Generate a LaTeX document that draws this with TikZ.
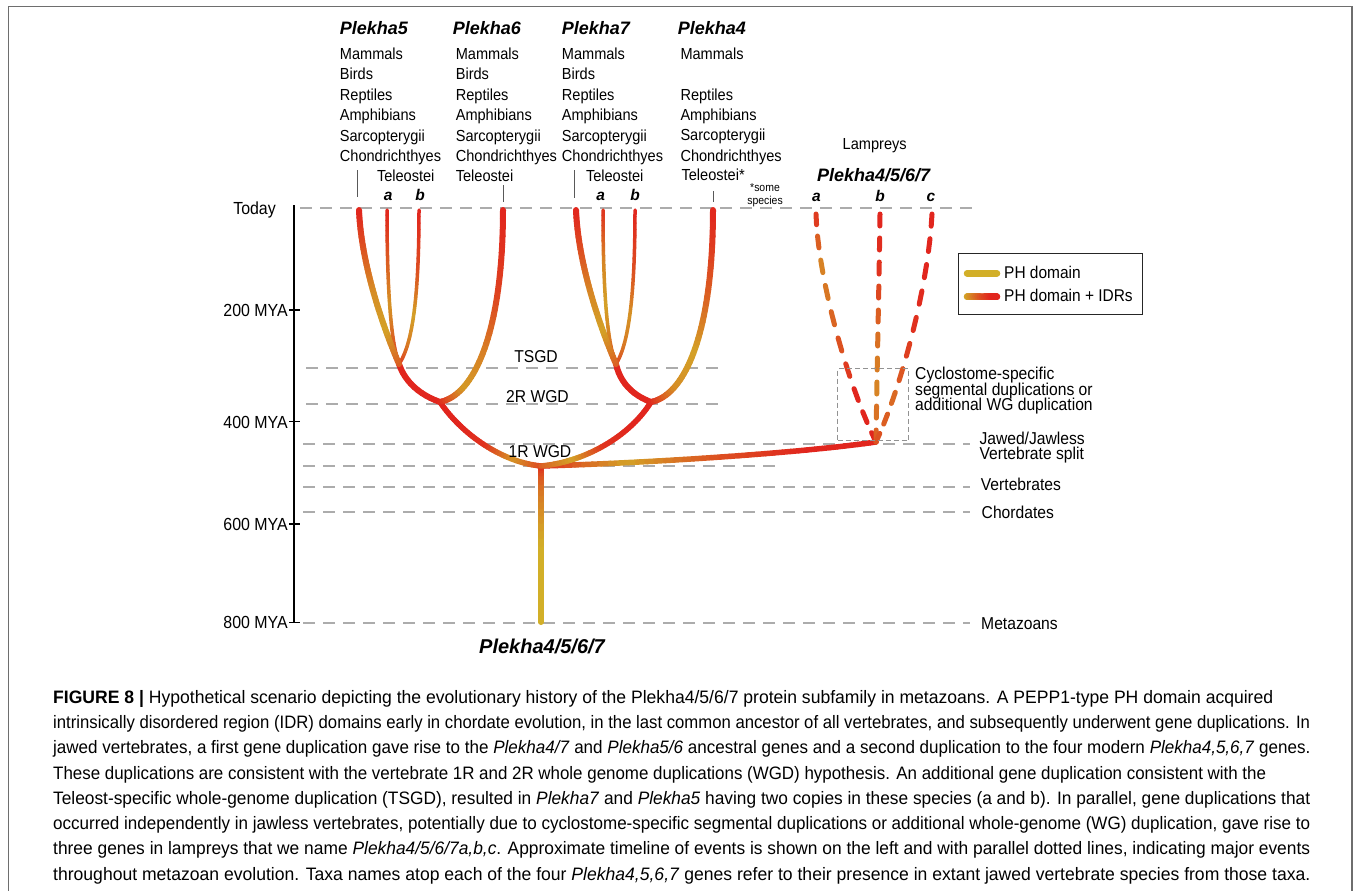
\documentclass[tikz,border=0pt]{standalone}
\usepackage{fontspec}
\usepackage{graphicx}
\setmainfont{Liberation Sans}
\newfontfamily\condfont[FakeStretch=0.91]{Liberation Sans}
\definecolor{mygold}{RGB}{210,175,40}
\definecolor{myred}{RGB}{225,38,30}
\definecolor{dashgray}{RGB}{172,172,172}
\definecolor{framegray}{RGB}{110,110,110}
% gradient branch: #1 width, #2 start, #3 ctrl1, #4 ctrl2, #5 end, #6 red% stops at t=0,.25,.5,.75,1, #7 segments
\newcommand\gbranch[7]{%
 \foreach \gi in {1,...,#7}{%
   \pgfmathsetmacro\gta{(\gi-1)/#7}%
   \pgfmathsetmacro\gtb{\gi/#7}%
   \pgfmathsetmacro\gtm{(\gi-0.5)/#7}%
   \pgfmathtruncatemacro\gk{min(3,floor(4*\gtm))}%
   \pgfmathsetmacro\gf{4*\gtm-\gk}%
   \pgfmathsetmacro\gra{{#6}[\gk]}%
   \pgfmathsetmacro\grb{{#6}[\gk+1]}%
   \pgfmathsetmacro\grp{\gra+(\grb-\gra)*\gf}%
   \path (#2) .. controls (#3) and (#4) .. (#5) coordinate[pos=\gta] (ga) coordinate[pos=\gtb] (gb);
   \draw[line width=#1, line cap=round, draw=myred!\grp!mygold] (ga) -- (gb);
 }}
% dashed gradient branch: draws odd segments only
\newcommand\gdbranch[7]{%
 \foreach \gi in {1,...,#7}{%
  \ifodd\gi\relax
   \pgfmathsetmacro\gta{(\gi-1)/#7}%
   \pgfmathsetmacro\gtb{\gi/#7}%
   \pgfmathsetmacro\gtm{(\gi-0.5)/#7}%
   \pgfmathtruncatemacro\gk{min(3,floor(4*\gtm))}%
   \pgfmathsetmacro\gf{4*\gtm-\gk}%
   \pgfmathsetmacro\gra{{#6}[\gk]}%
   \pgfmathsetmacro\grb{{#6}[\gk+1]}%
   \pgfmathsetmacro\grp{\gra+(\grb-\gra)*\gf}%
   \path (#2) .. controls (#3) and (#4) .. (#5) coordinate[pos=\gta] (ga) coordinate[pos=\gtb] (gb);
   \draw[line width=#1, line cap=round, draw=myred!\grp!mygold] (ga) -- (gb);
  \fi
 }}
\newcommand\capline[4]{\node[anchor=base west, inner sep=0, font=\fontsize{18}{20}\selectfont] (#1) at (53,#2) {\resizebox{#3pt}{\height}{#4}};}
\begin{document}
\begin{tikzpicture}[x=1pt,y=-1pt,
  lab/.style={inner sep=0, font=\condfont\fontsize{16}{18}\selectfont},
  evl/.style={inner sep=0, font=\condfont\fontsize{17.2}{18}\selectfont},
  axl/.style={inner sep=0, font=\condfont\fontsize{17.5}{19}\selectfont},
  hdr/.style={inner sep=0, font=\fontsize{18}{20}\selectfont\bfseries\itshape},
  abl/.style={inner sep=0, font=\fontsize{15.5}{17}\selectfont\bfseries\itshape},
  hline/.style={dashgray, line width=1.4, dash pattern=on 12pt off 8pt},
  axisline/.style={black, line width=1.3},
  leader/.style={black!65, line width=0.8}]
\useasboundingbox (0,0) rectangle (1354,891);
% frame
\draw[framegray, line width=1.8] (8.5,891) -- (8.5,6.5) -- (1352,6.5) -- (1352,891);

% time axis
\coordinate (axtop) at (294,205);
\coordinate (axbot) at (294,623);
\draw[axisline] (axtop) -- (axbot);
\foreach \ty in {310,421.7,524,622.7}{\draw[axisline] (289,\ty) -- (300,\ty);}
\node[axl, anchor=base east] (today) at (276,214) {Today};
\node[axl, anchor=base east] (m200) at (288,316.9) {200 MYA};
\node[axl, anchor=base east] (m400) at (288,428.5) {400 MYA};
\node[axl, anchor=base east] (m600) at (288,530.5) {600 MYA};
\node[axl, anchor=base east] (m800) at (288,628.8) {800 MYA};

% horizontal dashed event lines
\draw[hline] (300,208) -- (972,208);
\draw[hline] (306,368) -- (718,368);
\draw[hline] (306,404) -- (718,404);
\draw[hline] (303,444) -- (970,444);
\draw[hline] (303,466) -- (775,466);
\draw[hline] (303,487) -- (970,487);
\draw[hline] (303,512) -- (970,512);
\draw[hline] (303,623) -- (970,623);

% tree coordinates
\coordinate (base) at (541,622);
\coordinate (root) at (541,466);
\coordinate (n2L) at (440,402);
\coordinate (n2R) at (651,402);
\coordinate (nTL) at (399,364);
\coordinate (nTR) at (616,364);
\coordinate (lam) at (876,442);
\coordinate (t5) at (359,210);
\coordinate (t5a) at (387,210);
\coordinate (t5b) at (419,210);
\coordinate (t6) at (503,210);
\coordinate (t7) at (576,210);
\coordinate (t7a) at (603,210);
\coordinate (t7b) at (635,210);
\coordinate (t4) at (713,210);
\coordinate (la) at (816,214);
\coordinate (lb) at (880,214);
\coordinate (lc) at (932,214);

% branches
\gbranch{6}{base}{base}{root}{root}{0,0,0,40,100}{30}
\gbranch{5.5}{root}{650,463}{800,453}{lam}{100,10,70,100,100}{40}
\gbranch{5.5}{root}{500,462}{460,432}{n2L}{80,20,90,100,100}{40}
\gbranch{5.5}{root}{585,462}{630,436}{n2R}{60,10,90,100,100}{40}
\gbranch{6}{n2L}{420,395}{405,382}{nTL}{100,100,100,100,100}{12}
\gbranch{6}{n2R}{632,395}{620,382}{nTR}{100,100,100,100,100}{12}
\gbranch{3.5}{nTL}{390,340}{387,280}{t5a}{100,60,20,60,100}{40}
\gbranch{3.5}{nTL}{412,345}{419,300}{t5b}{90,40,10,70,100}{40}
\gbranch{6}{nTL}{380,320}{361,260}{t5}{60,10,25,65,100}{40}
\gbranch{6}{n2L}{475,395}{503,330}{t6}{100,15,35,80,100}{40}
\gbranch{3.5}{nTR}{606,340}{603,280}{t7a}{100,40,10,30,90}{40}
\gbranch{3.5}{nTR}{628,345}{635,300}{t7b}{80,40,20,70,100}{40}
\gbranch{6}{nTR}{597,320}{578,260}{t7}{60,10,30,70,100}{40}
\gbranch{6}{n2R}{686,395}{713,330}{t4}{100,25,10,60,100}{40}
% lamprey dashed branches
\gdbranch{5}{lam}{848,385}{818,280}{la}{100,100,60,30,90}{19}
\gdbranch{5}{lam}{877,366}{879,290}{lb}{60,30,50,90,100}{19}
\gdbranch{5}{lam}{900,390}{928,290}{lc}{70,50,90,100,100}{19}
\node[draw=dashgray!85!black, line width=1.2, dash pattern=on 5pt off 3pt, inner sep=0,
      minimum width=71pt, minimum height=72pt, anchor=north west] (cbox) at (837,368) {};

% event labels
\node[evl, anchor=base] (tsgd) at (536,362.7) {TSGD};
\node[evl, anchor=base] (wgd2) at (537.5,402.3) {2R WGD};
\node[evl, anchor=base] (wgd1) at (540,457.3) {1R WGD};
\node[evl, anchor=base west] (jj1) at (979.3,444) {Jawed/Jawless};
\node[evl, anchor=base west] (jj2) at (979.3,459.5) {Vertebrate split};
\node[evl, anchor=base west] (vert) at (980.7,490) {Vertebrates};
\node[evl, anchor=base west] (chord) at (981.5,518.3) {Chordates};
\node[evl, anchor=base west] (meta) at (981,629.3) {Metazoans};
\node[evl, anchor=base west] (cyc1) at (915,379.3) {Cyclostome-specific};
\node[evl, anchor=base west] (cyc2) at (915,395) {segmental duplications or};
\node[evl, anchor=base west] (cyc3) at (915,410.5) {additional WG duplication};
\node[hdr, anchor=base, font=\fontsize{20}{22}\selectfont\bfseries\itshape] (rootname) at (542,653.3) {Plekha4/5/6/7};

% headers
\node[hdr, anchor=base west] (h5) at (339.7,35) {Plekha5};
\node[hdr, anchor=base west] (h6) at (452.6,35) {Plekha6};
\node[hdr, anchor=base west] (h7) at (561.7,35) {Plekha7};
\node[hdr, anchor=base west] (h4) at (677.6,35) {Plekha4};
% taxa
\foreach \nm/\ty [count=\k] in {Mammals/59.5,Birds/79.5,Reptiles/100,Amphibians/120.5,Sarcopterygii/141,Chondrichthyes/161.5}{
  \node[lab, anchor=base west] (p5t\k) at (339.7,\ty) {\nm};
  \node[lab, anchor=base west] (p6t\k) at (455.6,\ty) {\nm};
  \node[lab, anchor=base west] (p7t\k) at (561.7,\ty) {\nm};
}
\foreach \nm/\ty [count=\k] in {Mammals/59.5,Reptiles/100,Amphibians/120,Sarcopterygii/140.5,Chondrichthyes/161.5}{
  \node[lab, anchor=base west] (p4t\k) at (680.3,\ty) {\nm};
}
\node[lab, anchor=base west] (p5tel) at (376.8,181.7) {Teleostei};
\node[lab, anchor=base west] (p6tel) at (455.6,181.7) {Teleostei};
\node[lab, anchor=base west] (p7tel) at (585.8,181.7) {Teleostei};
\node[lab, anchor=base west] (p4tel) at (681.4,180.5) {Teleostei*};
\node[inner sep=0, anchor=base, font=\condfont\fontsize{11.5}{12}\selectfont] (some1) at (765,191.7) {*some};
\node[inner sep=0, anchor=base, font=\condfont\fontsize{11.5}{12}\selectfont] (some2) at (765,204) {species};
\node[abl, anchor=base] (a5) at (388.3,200) {a};
\node[abl, anchor=base] (b5) at (420,200) {b};
\node[abl, anchor=base] (a7) at (600.7,200) {a};
\node[abl, anchor=base] (b7) at (635,200) {b};
% leaders
\coordinate (l5a) at (357.7,170); \coordinate (l5b) at (357.7,197);
\coordinate (l6a) at (503.5,185); \coordinate (l6b) at (503.5,202);
\coordinate (l7a) at (574.3,170); \coordinate (l7b) at (574.3,198);
\coordinate (l4a) at (713.6,191); \coordinate (l4b) at (713.6,202);
\draw[leader] (l5a) -- (l5b);
\draw[leader] (l6a) -- (l6b);
\draw[leader] (l7a) -- (l7b);
\draw[leader] (l4a) -- (l4b);

% lampreys
\node[lab, anchor=base] (lamp) at (874.7,149.3) {Lampreys};
\node[hdr, anchor=base] (lamph) at (873.7,181.7) {Plekha4/5/6/7};
\node[abl, anchor=base] (lla) at (816.5,201) {a};
\node[abl, anchor=base] (llb) at (880,201) {b};
\node[abl, anchor=base] (llc) at (931,201) {c};

% legend
\node[draw=black!85, line width=1, inner sep=0, minimum width=184pt, minimum height=61pt, anchor=north west] (legend) at (958,253) {};
\coordinate (lg1a) at (967,273.3); \coordinate (lg1b) at (997,273.3);
\coordinate (lg2a) at (967,296.7); \coordinate (lg2b) at (997,296.7);
\draw[mygold, line width=6.5, line cap=round] (lg1a) -- (lg1b);
\gbranch{6.5}{lg2a}{lg2a}{lg2b}{lg2b}{0,25,70,100,100}{20}
\node[inner sep=0, anchor=base west, font=\condfont\fontsize{17}{18}\selectfont] (lgt1) at (1004,278.3) {PH domain};
\node[inner sep=0, anchor=base west, font=\condfont\fontsize{17}{18}\selectfont] (lgt2) at (1004,301.7) {PH domain + IDRs};

% caption
\capline{c1}{703.3}{1220}{\textbf{FIGURE 8 |} Hypothetical scenario depicting the evolutionary history of the Plekha4/5/6/7 protein subfamily in metazoans. A PEPP1-type PH domain acquired}
\capline{c2}{728.5}{1257}{intrinsically disordered region (IDR) domains early in chordate evolution, in the last common ancestor of all vertebrates, and subsequently underwent gene duplications. In}
\capline{c3}{753.8}{1257}{jawed vertebrates, a first gene duplication gave rise to the \textit{Plekha4/7} and \textit{Plekha5/6} ancestral genes and a second duplication to the four modern \textit{Plekha4,5,6,7} genes.}
\capline{c4}{779.0}{1213}{These duplications are consistent with the vertebrate 1R and 2R whole genome duplications (WGD) hypothesis. An additional gene duplication consistent with the}
\capline{c5}{804.3}{1257}{Teleost-specific whole-genome duplication (TSGD), resulted in \textit{Plekha7} and \textit{Plekha5} having two copies in these species (a and b). In parallel, gene duplications that}
\capline{c6}{829.5}{1257}{occurred independently in jawless vertebrates, potentially due to cyclostome-specific segmental duplications or additional whole-genome (WG) duplication, gave rise to}
\capline{c7}{854.7}{1257}{three genes in lampreys that we name \textit{Plekha4/5/6/7a,b,c}. Approximate timeline of events is shown on the left and with parallel dotted lines, indicating major events}
\capline{c8}{880.0}{1257}{throughout metazoan evolution. Taxa names atop each of the four \textit{Plekha4,5,6,7} genes refer to their presence in extant jawed vertebrate species from those taxa.}
\end{tikzpicture}
\end{document}
